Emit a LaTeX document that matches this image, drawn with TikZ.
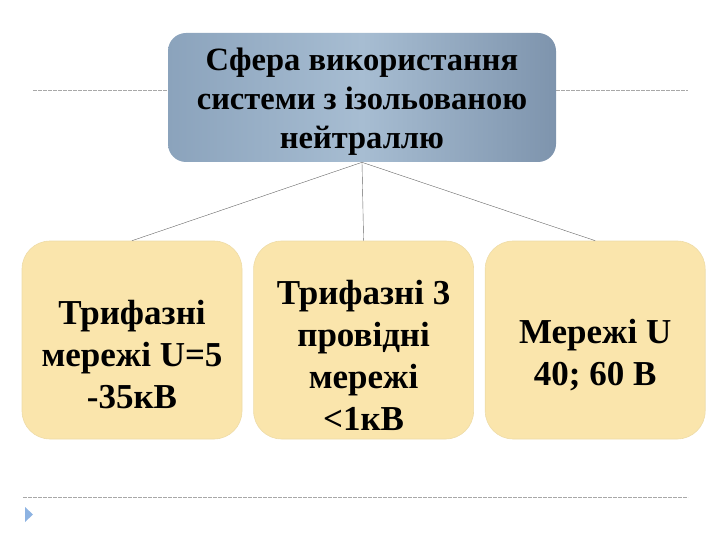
\documentclass[tikz,border=0pt]{standalone}
\usepackage{fontspec}
\setmainfont{Liberation Serif}
\usepackage{tikz}
\usetikzlibrary{positioning}

\definecolor{headleft}{HTML}{8BA3BC}
\definecolor{headmid}{HTML}{A7BDD2}
\definecolor{headright}{HTML}{7E94AD}
\definecolor{leaffill}{HTML}{FAE5AC}
\definecolor{leafdraw}{HTML}{EEDCA8}
\definecolor{rulegray}{HTML}{A8A8A8}
\definecolor{markblue}{HTML}{8DB3E2}

\begin{document}
\begin{tikzpicture}[
            x = 1pt, y = -1pt, % pixel like units
            semithick,
            every text node part/.style={align=center} % centred lines
        ]

        \tikzstyle{head}=[
            draw = none,
            rounded corners = 18pt,
            left color = headleft,
            right color = headright,
            middle color = headmid,
            minimum width = 388pt,
            minimum height = 129pt
        ]
        \tikzstyle{headtext}=[
            align = center,
            yshift = -4pt,
            font = \bfseries\fontsize{32.5}{39}\selectfont
        ]
        \tikzstyle{leaf}=[
            draw = leafdraw,
            fill = leaffill,
            rounded corners = 28pt,
            minimum width = 220pt,
            minimum height = 198pt,
            inner sep = 0pt
        ]
        \tikzstyle{leaftext}=[
            align = center,
            yshift = -15pt,
            font = \bfseries\fontsize{35}{42}\selectfont
        ]
        \tikzstyle{link}=[draw = gray!80!black, thin]
        \tikzstyle{slide rule}=[draw = rulegray, thin, dash pattern = on 4pt off 1pt]

        \useasboundingbox (0,0) rectangle (720,540);

        % slide decoration
        \coordinate (RuleA) at (33,90);
        \coordinate (RuleB) at (688,90);
        \coordinate (RuleC) at (23,497);
        \coordinate (RuleD) at (688,497);
        \path[slide rule] (RuleA) -- (168,90);
        \path[slide rule] (556,90) -- (RuleB);
        \path[slide rule] (RuleC) -- (RuleD);
        \fill[markblue] (25,507) -- (25,522) -- (33,514.5) -- cycle;

        \node[head, label={[headtext]center:{Сфера використання\\ системи з ізольованою\\ нейтраллю}}] (Use) at (362,97.5) {};

        \node[leaf, label={[leaftext]center:{Трифазні\\ мережі U=5\\ -35кВ}}] (High) at (132,340) {};
        \node[leaf, label={[leaftext]center:{Трифазні 3\\ провідні\\ мережі\\ <1кВ}}] (Low) [right=11pt of High] {};
        \node[leaf, label={[leaftext]center:{Мережі U\\ 40; 60 В}}] (Safe) [right=11pt of Low] {};

        \path[link] (Use.south) edge (High.north);
        \path[link] (Use.south) edge (Low.north);
        \path[link] (Use.south) edge (Safe.north);

    \end{tikzpicture}
\end{document}
